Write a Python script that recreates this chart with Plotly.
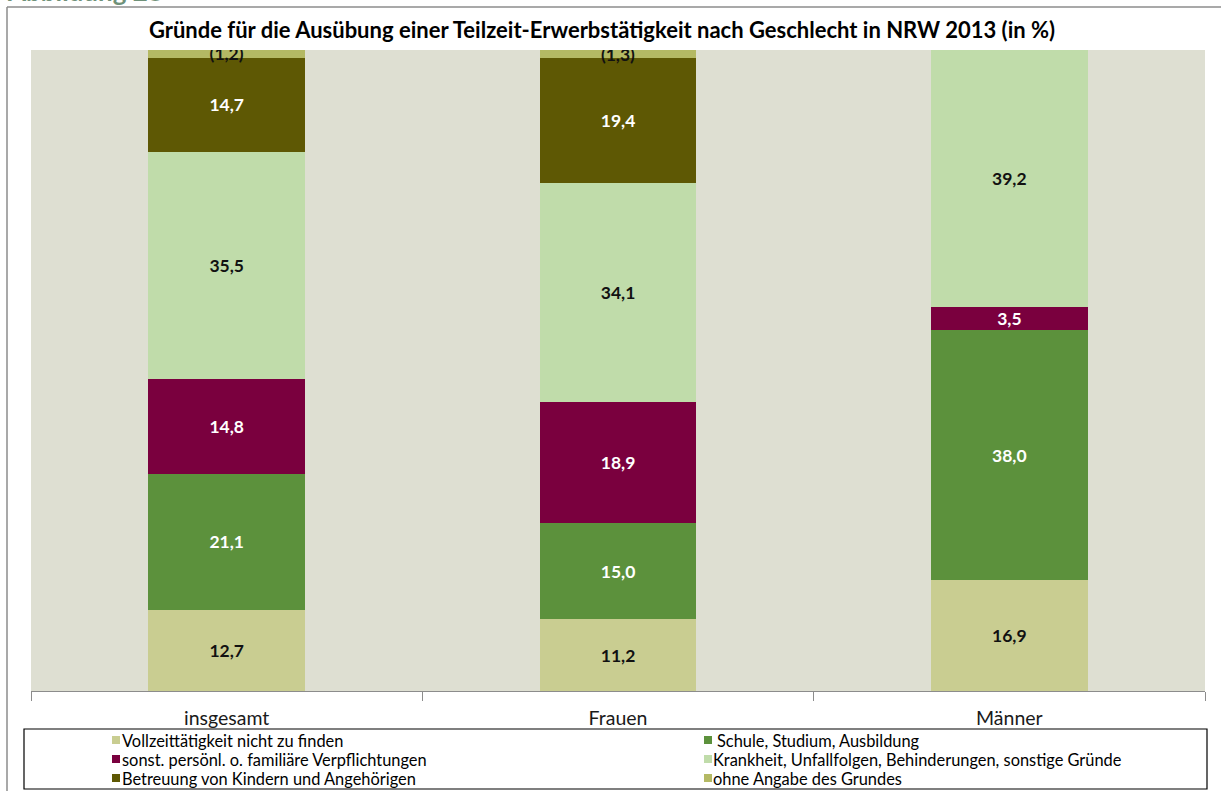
import plotly.graph_objects as go

categories = ["insgesamt", "Frauen", "Männer"]

series_names = [
    "Vollzeittätigkeit nicht zu finden",
    "Schule, Studium, Ausbildung",
    "sonst. persönl. o. familiäre Verpflichtungen",
    "Krankheit, Unfallfolgen, Behinderungen, sonstige Gründe",
    "Betreuung von Kindern und Angehörigen",
    "ohne Angabe des Grundes",
]

vollzeit = [12.7, 11.2, 16.9]
schule = [21.1, 15.0, 38.0]
verpflichtungen = [14.8, 18.9, 3.5]
krankheit = [35.5, 34.1, 39.2]
betreuung = [14.7, 19.4, None]
ohne_angabe = [1.2, 1.3, None]

series_values = [vollzeit, schule, verpflichtungen, krankheit, betreuung, ohne_angabe]
series_colors = ["#c9cd91", "#5c913c", "#7a003e", "#c0dcaa", "#5e5804", "#b4b964"]
label_colors = ["#111111", "#ffffff", "#ffffff", "#111111", "#ffffff", "#111111"]
bracketed = [False, False, False, False, False, True]

PLOT_L, PLOT_R, PLOT_T, PLOT_B = 31, 1205, 50, 691
W, H = 1221, 791


def px_x(p):
    return (p - PLOT_L) / (PLOT_R - PLOT_L)


def px_y(p):
    return (PLOT_B - p) / (PLOT_B - PLOT_T)


def fmt(v, br):
    if v is None:
        return ""
    s = f"{v:.1f}".replace(".", ",")
    return f"({s})" if br else s


fig = go.Figure()
for name, vals, col, lcol, br in zip(series_names, series_values, series_colors, label_colors, bracketed):
    fig.add_trace(go.Bar(
        name=name,
        x=categories,
        y=vals,
        marker=dict(color=col, line=dict(width=0)),
        text=[fmt(v, br) for v in vals],
        texttemplate="%{text}",
        textposition="inside",
        insidetextanchor="middle",
        textangle=0,
        constraintext="none",
        textfont=dict(family="Lato", size=17.5, color=lcol, weight="bold"),
        hovertemplate="%{x}: %{text}<extra>" + name + "</extra>",
        showlegend=False,
    ))

# legend (drawn as a boxed two-column key, like the original)
LEG_COL_SYM = [112, 704]
LEG_COL_TXT = [120, 711]
LEG_ROW_Y = [740, 759, 778]
shapes = [
    dict(type="rect", xref="paper", yref="paper",
         x0=px_x(24), x1=px_x(1207), y0=px_y(789), y1=px_y(729),
         line=dict(color="#000000", width=1.2), fillcolor="rgba(0,0,0,0)"),
    dict(type="line", xref="paper", yref="paper",
         x0=px_x(7), x1=px_x(7), y0=px_y(7), y1=px_y(800),
         line=dict(color="#8c8c8c", width=1.5)),
    dict(type="line", xref="paper", yref="paper",
         x0=px_x(7), x1=px_x(1230), y0=px_y(7), y1=px_y(7),
         line=dict(color="#8c8c8c", width=1.5)),
]
annotations = [
    dict(text="<b>Abbildung 28</b>", xref="paper", yref="paper",
         x=px_x(5), xanchor="left", y=px_y(9), yanchor="bottom",
         showarrow=False, font=dict(family="Lato", size=26, color="#6f9179")),
]
for i, (name, col) in enumerate(zip(series_names, series_colors)):
    c, r = i % 2, i // 2
    yc = LEG_ROW_Y[r]
    sx = LEG_COL_SYM[c]
    shapes.append(dict(type="rect", xref="paper", yref="paper",
                       x0=px_x(sx), x1=px_x(sx + 8), y0=px_y(yc + 4), y1=px_y(yc - 4),
                       line=dict(width=0), fillcolor=col))
    tx = LEG_COL_TXT[c] + (4 if i == 1 else 0)
    annotations.append(dict(text=name, xref="paper", yref="paper",
                            x=px_x(tx), xanchor="left", y=px_y(yc), yanchor="middle",
                            showarrow=False,
                            font=dict(family="Lato", size=16.4, color="#000000")))

fig.update_layout(
    width=W,
    height=H,
    barmode="stack",
    barnorm="percent",
    bargap=0.6,
    paper_bgcolor="#ffffff",
    plot_bgcolor="#dedfd2",
    margin=dict(l=PLOT_L, r=W - PLOT_R, t=PLOT_T, b=H - PLOT_B),
    font=dict(family="Lato", color="#111111"),
    title=dict(
        text="<b>Gründe für die Ausübung einer Teilzeit-Erwerbstätigkeit nach Geschlecht in NRW 2013 (in %)</b>",
        font=dict(family="Lato", size=22, color="#000000"),
        x=602 / W, xref="container", xanchor="center",
        y=1 - 30 / H, yref="container", yanchor="middle",
    ),
    xaxis=dict(
        showline=True, linecolor="#8c8c8c", linewidth=1,
        ticks="outside", tickson="boundaries", ticklen=9, tickcolor="#8c8c8c",
        showgrid=False, zeroline=False,
        tickfont=dict(family="Lato", size=19.5, color="#1a1a1a"),
        ticklabelstandoff=10,
    ),
    yaxis=dict(range=[0, 100], visible=False, showgrid=False, zeroline=False),
    showlegend=False,
    shapes=shapes,
    annotations=annotations,
)

fig.write_html(
    "out.html",
    config={"displayModeBar": False},
    post_script="document.body.style.margin='0';document.body.style.overflow='hidden';",
)
